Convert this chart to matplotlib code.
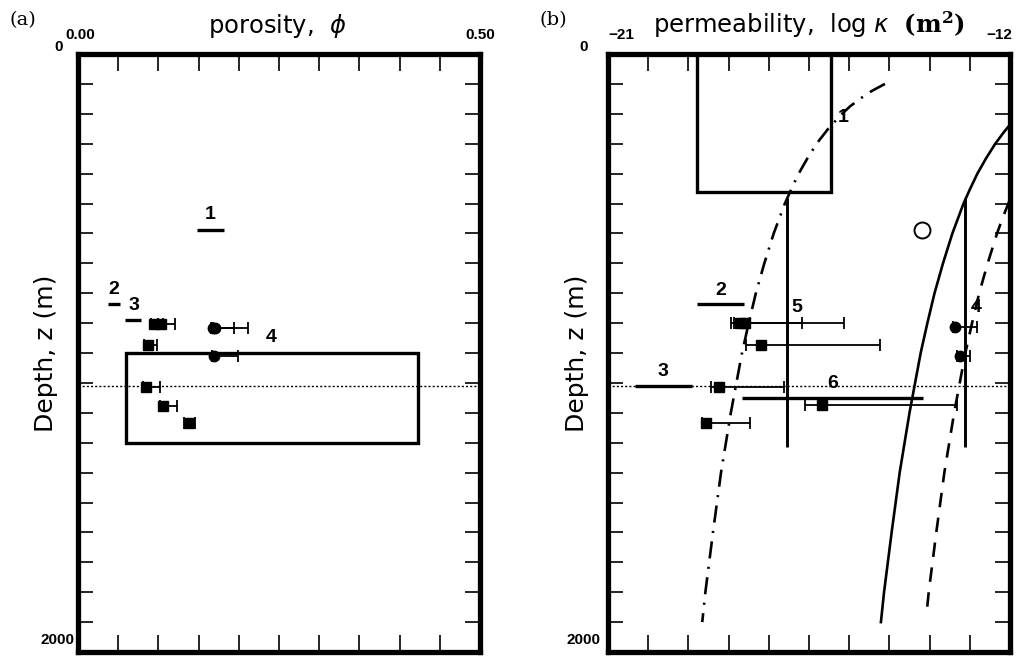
import matplotlib
matplotlib.use("Agg")
import matplotlib.pyplot as plt
from matplotlib.patches import Rectangle

plt.rcParams['mathtext.fontset'] = 'custom'
plt.rcParams['mathtext.it'] = 'DejaVu Sans:italic'
plt.rcParams['mathtext.rm'] = 'DejaVu Sans'
plt.rcParams['mathtext.bf'] = 'DejaVu Serif:bold'

# ---- panel (a): porosity ----
phi_seg_names = ['1', '2', '3']
phi_seg_z = [589, 837, 890]
phi_seg_lo = [0.148, 0.037, 0.058]
phi_seg_hi = [0.182, 0.0525, 0.078]
phi_lab_x = [0.164, 0.044, 0.070]
phi_lab_z = [537, 787, 840]

phi_sq = [0.094, 0.103, 0.0867, 0.0846, 0.106, 0.1384]
phi_sq_z = [903, 903, 972, 1114, 1176, 1233]
phi_sq_lo = [0.003, 0.003, 0.004, 0.004, 0.004, 0.007]
phi_sq_hi = [0.012, 0.018, 0.011, 0.017, 0.017, 0.007]

phi_ci = [0.168, 0.170, 0.169]
phi_ci_z = [918, 918, 1009]
phi_ci_lo = [0.002, 0.002, 0.002]
phi_ci_hi = [0.026, 0.042, 0.030]

phi_box = [0.06, 0.4225, 1000, 1300]   # phi min, phi max, z top, z bottom
dotted_z = 1111

# ---- panel (b): permeability ----
k_seg_z = [837, 1111, 1151]
k_seg_lo = [-19.0, -20.4, -18.0]
k_seg_hi = [-17.95, -19.13, -13.94]
k_lab = ['1', '2', '3', '4', '5', '6']
k_lab_x = [-15.74, -18.48, -19.76, -12.75, -16.78, -15.96]
k_lab_z = [213, 792, 1062, 848, 848, 1103]

k_sq = [-18.05, -17.93, -17.58, -18.52, -16.22, -18.80]
k_sq_z = [901, 901, 972, 1114, 1173, 1233]
k_sq_lo = [0.20, 0.26, 0.32, 0.18, 0.38, 0.10]
k_sq_hi = [1.39, 2.22, 2.68, 1.46, 3.04, 0.99]

k_ci = [-13.23, -13.13]
k_ci_z = [914, 1009]
k_ci_lo = [0.05, 0.05]
k_ci_hi = [0.48, 0.23]

k_open = [-13.98]
k_open_z = [589]

k_vert = [-17.0, -13.0]
k_vert_z = [480, 1315]

k_box = [-19.0, -16.0, 0, 460]

# curves: depth (m) and log k
dd_z = [100, 125, 150, 175, 200, 250, 300, 350, 400, 450, 500, 600, 700, 800, 900, 1000,
        1200, 1400, 1600, 1800, 1900]
dd_k = [-14.80, -15.11, -15.36, -15.58, -15.76, -16.07, -16.33, -16.54, -16.73, -16.89,
        -17.04, -17.29, -17.50, -17.69, -17.85, -18.00, -18.25, -18.47, -18.65, -18.82, -18.89]
sol_z = [240, 260, 280, 300, 350, 400, 450, 500, 600, 700, 800, 900, 1000, 1200, 1400,
         1600, 1800, 1900]
sol_k = [-12.02, -12.13, -12.23, -12.33, -12.54, -12.73, -12.89, -13.04, -13.29, -13.50,
         -13.69, -13.85, -14.00, -14.25, -14.47, -14.65, -14.82, -14.89]
das_z = [490, 550, 600, 700, 800, 900, 1000, 1200, 1400, 1600, 1800, 1860]
das_k = [-12.01, -12.17, -12.29, -12.50, -12.69, -12.85, -13.00, -13.25, -13.47, -13.65,
         -13.82, -13.86]

fig = plt.figure(figsize=(10.3, 6.59), dpi=100)
W, H = 1030, 659
axa = fig.add_axes([78 / W, 1 - 652 / H, 402 / W, 598 / H])
axb = fig.add_axes([608 / W, 1 - 652 / H, 402 / W, 598 / H])

numfont = dict(family='Liberation Sans', fontweight='bold', fontsize=11)
labfont = dict(family='Liberation Sans', fontweight='bold', fontsize=14)


def frame(ax, xlim, label_x):
    ax.set_xlim(xlim)
    ax.set_ylim(2000, 0)
    step = (xlim[1] - xlim[0]) / 10
    ax.set_xticks([xlim[0] + i * step for i in range(11)])
    ax.set_yticks(range(0, 2001, 100))
    ax.tick_params(direction='in', top=True, right=True, labelbottom=False,
                   labelleft=False, width=1.2)
    ax.tick_params(axis='x', length=12)
    ax.tick_params(axis='y', length=10.5)
    for s in ax.spines.values():
        s.set_linewidth(3.8)
    ax.axhline(dotted_z, color='black', lw=1.0, ls=(0, (1.5, 1.5)))
    ax.text(label_x, 0.5, 'Depth, z (m)', transform=ax.transAxes, rotation=90,
            fontsize=18, family='DejaVu Sans', ha='center', va='center')


frame(axa, (0.0, 0.5), -0.08)
frame(axb, (-21, -12), -0.077)

# corner labels
axa.text(-0.0485, 1.011, '0', transform=axa.transAxes, ha='center', va='center', **numfont)
axa.text(0.005, 1.032, '0.00', transform=axa.transAxes, ha='center', va='center', **numfont)
axa.text(1.0, 1.032, '0.50', transform=axa.transAxes, ha='center', va='center', **numfont)
axa.text(-0.051, 0.02, '2000', transform=axa.transAxes, ha='center', va='center', **numfont)
axb.text(-0.061, 1.011, '0', transform=axb.transAxes, ha='center', va='center', **numfont)
axb.text(0.032, 1.032, '\u221221', transform=axb.transAxes, ha='center', va='center', **numfont)
axb.text(0.973, 1.032, '\u221212', transform=axb.transAxes, ha='center', va='center', **numfont)
axb.text(-0.062, 0.02, '2000', transform=axb.transAxes, ha='center', va='center', **numfont)

axa.text(0.495, 1.035, r'porosity,  $\phi$', transform=axa.transAxes, ha='center',
         va='baseline', fontsize=17.5, family='DejaVu Sans')
axb.text(0.5, 1.035, r'permeability,  log $\kappa$  $\mathbf{(m^2)}$', transform=axb.transAxes,
         ha='center', va='baseline', fontsize=17.5, family='DejaVu Sans')
fig.text(23 / W, 1 - 20 / H, '(a)', family='DejaVu Serif', fontsize=14, ha='center', va='center')
fig.text(553 / W, 1 - 20 / H, '(b)', family='DejaVu Serif', fontsize=14, ha='center', va='center')

# ---- draw panel (a) ----
axa.hlines(phi_seg_z, phi_seg_lo, phi_seg_hi, color='black', lw=2.4)
for n, x, z in zip(phi_seg_names, phi_lab_x, phi_lab_z):
    axa.text(x, z, n, ha='center', va='center', **labfont)
axa.text(0.2397, 947, '4', ha='center', va='center', **labfont)
axa.add_patch(Rectangle((phi_box[0], phi_box[2]), phi_box[1] - phi_box[0],
                        phi_box[3] - phi_box[2], fill=False, lw=2.4, ec='black'))
axa.errorbar(phi_sq, phi_sq_z, xerr=[phi_sq_lo, phi_sq_hi], fmt='s', color='black',
             ms=7.5, capsize=4.5, elinewidth=1.3, capthick=1.3)
axa.errorbar(phi_ci, phi_ci_z, xerr=[phi_ci_lo, phi_ci_hi], fmt='o', color='black',
             ms=7.5, capsize=4.5, elinewidth=1.3, capthick=1.3)

# ---- draw panel (b) ----
axb.add_patch(Rectangle((k_box[0], k_box[2]), k_box[1] - k_box[0],
                        k_box[3] - k_box[2], fill=False, lw=2.4, ec='black'))
axb.plot(dd_k, dd_z, color='black', lw=1.9, ls=(0, (6.5, 3.2, 0.8, 3.2)))
axb.plot(sol_k, sol_z, color='black', lw=1.9)
axb.plot(das_k, das_z, color='black', lw=1.9, ls=(0, (5.5, 4)))
axb.vlines(k_vert, k_vert_z[0], k_vert_z[1], color='black', lw=2.1)
axb.hlines(k_seg_z, k_seg_lo, k_seg_hi, color='black', lw=2.4)
for n, x, z in zip(k_lab, k_lab_x, k_lab_z):
    axb.text(x, z, n, ha='center', va='center', **labfont)
axb.errorbar(k_sq, k_sq_z, xerr=[k_sq_lo, k_sq_hi], fmt='s', color='black',
             ms=7.5, capsize=4.5, elinewidth=1.3, capthick=1.3)
axb.errorbar(k_ci, k_ci_z, xerr=[k_ci_lo, k_ci_hi], fmt='o', color='black',
             ms=7.5, capsize=4.5, elinewidth=1.3, capthick=1.3)
axb.plot(k_open, k_open_z, 'o', mfc='white', mec='black', ms=11.5, mew=1.4)

fig.savefig('out.png', dpi=100)
